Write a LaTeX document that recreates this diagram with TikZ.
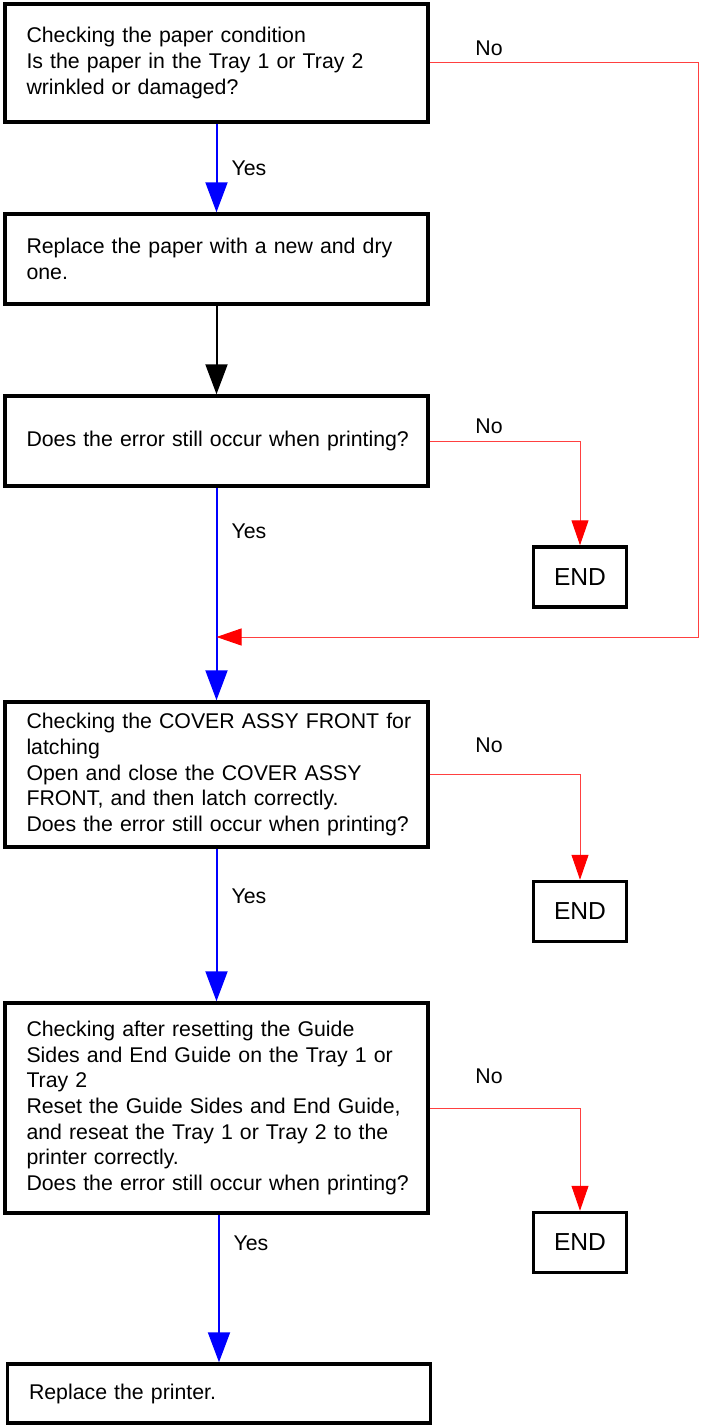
\documentclass[tikz,border=0pt]{standalone}
\usepackage{fontspec}
\setmainfont{Liberation Sans}
\usepackage{xcolor}
\usepackage{tikz}
\usetikzlibrary{arrows.meta,calc}

\tikzset{
    stepbox/.style={draw, line width=3.5pt, text width=380pt, inner xsep=21.5pt, align=left},
    endbox/.style={draw, line width=3.5pt, minimum width=93pt, minimum height=60pt, inner sep=0pt,
        font=\fontsize{24.6pt}{29pt}\selectfont},
    yesline/.style={draw=blue, line width=2pt, -{Triangle[length=30pt,width=22pt]}},
    goline/.style={draw=black, line width=2pt, -{Triangle[length=30pt,width=22pt]}},
    noline/.style={draw=red!75, line width=1pt, -{Triangle[length=25pt,width=17pt,fill=red,color=red]}}
}

\begin{document}
\begin{tikzpicture}[x=1pt, y=-1pt, font=\fontsize{21.3pt}{25.7pt}\selectfont]
    \useasboundingbox (0,0) rectangle (701,1426);

    % Paper condition
    \node[stepbox, minimum height=118pt] (paper) at (216.5,63)
        {Checking the paper condition\\Is the paper in the Tray 1 or Tray 2\\wrinkled or damaged?};
    \node[stepbox, minimum height=90pt] (replace) at (216.5,259)
        {Replace the paper with a new and dry\\one.};
    \node[stepbox, minimum height=90pt] (error) at (216.5,441)
        {\mbox{Does the error still occur when printing?}};
    \node[endbox] (endA) at (580,577) {END};

    % Cover assy front
    \node[stepbox, minimum height=145pt] (cover) at (216.5,774.5)
        {\mbox{Checking the COVER ASSY FRONT for}\\latching\\Open and close the COVER ASSY\\FRONT, and then latch correctly.\\\mbox{Does the error still occur when printing?}};
    \node[endbox] (endB) at (580,911.5) {END};

    % Guide sides and end guide
    \node[stepbox, minimum height=210pt] (guide) at (216.5,1108)
        {Checking after resetting the Guide\\Sides and End Guide on the Tray 1 or\\Tray 2\\Reset the Guide Sides and End Guide,\\and reseat the Tray 1 or Tray 2 to the\\printer correctly.\\\mbox{Does the error still occur when printing?}};
    \node[endbox] (endC) at (580,1242.5) {END};

    % Printer
    \node[stepbox, minimum height=59pt] (printer) at (219,1393.5) {Replace the printer.};

    % Yes / No labels
    \node (yesA) at (249,168) {Yes};
    \node (yesB) at (249,531) {Yes};
    \node (yesC) at (249,896) {Yes};
    \node (yesD) at (251,1243) {Yes};
    \node (noA) at (489,48) {No};
    \node (noB) at (489,426) {No};
    \node (noC) at (489,745) {No};
    \node (noD) at (489,1076) {No};

    % Connectors
    \coordinate (corner) at (698,637);
    \coordinate (merge) at (error.south |- corner);
    \draw[yesline] (paper) -- (replace);
    \draw[goline] (replace) -- (error);
    \draw[yesline] (error) -- (cover);
    \draw[yesline] (cover) -- (guide);
    \draw[yesline] (printer.north |- guide.south) -- (printer);
    \draw[noline] (paper.east) -| (corner) -- (merge);
    \draw[noline] (error.east) -| (endA.north);
    \draw[noline] (cover.east) -| (endB.north);
    \draw[noline] (guide.east) -| (endC.north);
\end{tikzpicture}
\end{document}
